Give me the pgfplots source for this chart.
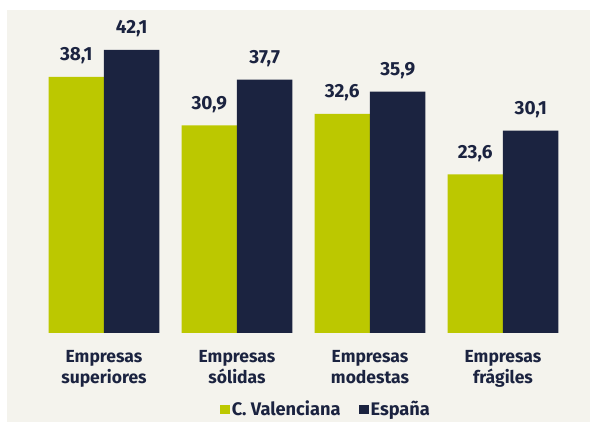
\documentclass[border=0pt]{standalone}
\usepackage{pgfplots}
\pgfplotsset{compat=1.18}
\usepackage{fontspec}
\setmainfont{Fira Sans}
\definecolor{cvgreen}{RGB}{188,200,0}
\definecolor{navy}{RGB}{27,35,64}
\definecolor{bg}{RGB}{244,243,237}
\begin{document}
\begin{tikzpicture}[x=1pt,y=1pt]
\fill[white] (-37.5,-89) rectangle (552.5,333);
\fill[bg] (-30.5,-89) rectangle (552.5,323);
\begin{axis}[
  at={(0,0)}, anchor=south west,
  scale only axis, width=532pt, height=302.5pt,
  xmin=-0.5, xmax=3.5, ymin=0, ymax=45,
  clip=false,
  axis line style={draw=none},
  ytick=\empty, xtick={0,1,2,3},
  major tick length=0pt,
  xticklabels={{Empresas\\superiores},{Empresas\\sólidas},{Empresas\\modestas},{Empresas\\frágiles}},
  xticklabel style={align=center, font=\fontsize{17.5}{20.7}\selectfont\bfseries, text=navy, anchor=north, inner sep=0pt, yshift=-17pt},
  ybar, bar width=0.417,
  nodes near coords,
  /pgf/number format/use comma,
  /pgf/number format/fixed,
  /pgf/number format/fixed zerofill,
  /pgf/number format/precision=1,
  /pgf/number format/assume math mode=true,
  every node near coord/.append style={font=\fontsize{19}{22}\selectfont\bfseries, text=navy, anchor=base, yshift=16pt},
  legend style={at={(0.542,-0.252)}, anchor=center, draw=none, fill=none, legend columns=2,
    font=\fontsize{18.2}{20}\selectfont\bfseries, text=navy,
    /tikz/every even column/.append style={column sep=16pt}},
  legend image code/.code={\fill[#1,draw=none] (-2pt,-4.5pt) rectangle (8pt,4.5pt);},
]
\addplot[fill=cvgreen, draw=none, bar shift=-0.2085] coordinates {(0,38.1) (1,30.9) (2,32.6) (3,23.6)};
\addplot[fill=navy, draw=none, bar shift=0.2085] coordinates {(0,42.1) (1,37.7) (2,35.9) (3,30.1)};
\legend{C. Valenciana, España}
\end{axis}
\pgfresetboundingbox
\useasboundingbox (-37.5,-89) rectangle (552.5,333);
\end{tikzpicture}
\end{document}
